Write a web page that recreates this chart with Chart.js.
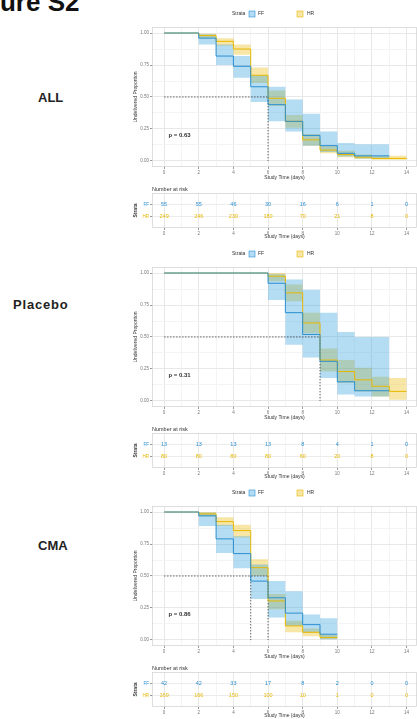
<!DOCTYPE html>
<html>
<head>
<meta charset="utf-8">
<script src="https://cdn.jsdelivr.net/npm/chart.js@4.4.0/dist/chart.umd.min.js"></script>
<style>
body { margin: 0; background: #fff; width: 417px; height: 719px; overflow: hidden; position: relative; font-family: "Liberation Sans", Arial, sans-serif; }
.lbl { position: absolute; font-weight: bold; font-size: 13px; line-height: 14px; color: #222; }
canvas { position: absolute; left: 120px; }
</style>
</head>
<body>
<div id="fig" style="position:absolute;left:-39px;top:-13px;font-size:26px;font-weight:bold;color:#111;white-space:nowrap">Figure S2</div>
<div class="lbl" style="left:38px;top:91px">ALL</div>
<div class="lbl" style="left:13px;top:298px;letter-spacing:0.8px">Placebo</div>
<div class="lbl" style="left:38px;top:539px">CMA</div>

<canvas id="km1" width="297" height="185"></canvas>
<canvas id="risk1" width="297" height="58"></canvas>
<canvas id="km2" width="297" height="185"></canvas>
<canvas id="risk2" width="297" height="58"></canvas>
<canvas id="km3" width="297" height="185"></canvas>
<canvas id="risk3" width="297" height="58"></canvas>

<script>
// tick labels and strata
var riskDays = [0, 2, 4, 6, 8, 10, 12, 14];
var strata = ['FF', 'HR'];

// ALL - Kaplan-Meier steps
var allFFTime = [0, 2, 3, 4, 5, 6, 7, 8, 9, 10, 11, 13];
var allFFSurv = [1, 0.96, 0.82, 0.74, 0.58, 0.44, 0.31, 0.2, 0.12, 0.06, 0.04, 0.04];
var allFFLow  = [1, 0.91, 0.75, 0.65, 0.46, 0.31, 0.23, 0.12, 0.07, 0.035, 0.02, 0.02];
var allFFHigh = [1, 0.99, 0.91, 0.82, 0.67, 0.58, 0.48, 0.37, 0.23, 0.14, 0.13, 0.13];
var allHRTime = [0, 2, 3, 4, 5, 6, 7, 8, 9, 10, 11, 12, 14];
var allHRSurv = [1, 0.98, 0.935, 0.875, 0.67, 0.49, 0.31, 0.165, 0.085, 0.05, 0.03, 0.02, 0.02];
var allHRLow  = [1, 0.96, 0.9, 0.83, 0.61, 0.43, 0.26, 0.12, 0.06, 0.03, 0.015, 0.01, 0.01];
var allHRHigh = [1, 0.995, 0.96, 0.91, 0.73, 0.55, 0.36, 0.21, 0.12, 0.08, 0.05, 0.04, 0.04];
var allRiskFF = [55, 55, 46, 30, 16, 6, 1, 0];
var allRiskHR = [249, 246, 230, 180, 70, 21, 8, 0];

// Placebo
var plaFFTime = [0, 6, 7, 8, 9, 10, 11, 13];
var plaFFSurv = [1, 0.92, 0.69, 0.52, 0.31, 0.15, 0.08, 0.08];
var plaFFLow  = [1, 0.79, 0.44, 0.34, 0.18, 0.05, 0.035, 0.035];
var plaFFHigh = [1, 0.99, 0.95, 0.87, 0.69, 0.54, 0.5, 0.5];
var plaHRTime = [0, 6, 7, 8, 9, 10, 11, 12, 13, 14];
var plaHRSurv = [1, 0.975, 0.845, 0.61, 0.32, 0.23, 0.165, 0.115, 0.075, 0.075];
var plaHRLow  = [1, 0.935, 0.78, 0.53, 0.23, 0.14, 0.075, 0.036, 0.01, 0.01];
var plaHRHigh = [1, 1, 0.91, 0.69, 0.41, 0.32, 0.26, 0.19, 0.18, 0.18];
var plaRiskFF = [13, 13, 13, 13, 8, 4, 1, 0];
var plaRiskHR = [80, 80, 80, 80, 60, 20, 8, 0];

// CMA
var cmaFFTime = [0, 2, 3, 4, 5, 6, 7, 8, 9, 10];
var cmaFFSurv = [1, 0.97, 0.79, 0.675, 0.46, 0.33, 0.21, 0.12, 0.045, 0.045];
var cmaFFLow  = [1, 0.89, 0.68, 0.56, 0.32, 0.175, 0.11, 0.06, 0.005, 0.005];
var cmaFFHigh = [1, 0.995, 0.9, 0.81, 0.59, 0.46, 0.38, 0.2, 0.17, 0.17];
var cmaHRTime = [0, 2, 3, 4, 5, 6, 7, 8, 9, 10];
var cmaHRSurv = [1, 0.985, 0.925, 0.855, 0.565, 0.305, 0.11, 0.06, 0.02, 0.02];
var cmaHRLow  = [1, 0.965, 0.89, 0.8, 0.5, 0.24, 0.06, 0.03, 0.005, 0.005];
var cmaHRHigh = [1, 1, 0.96, 0.9, 0.63, 0.36, 0.15, 0.09, 0.04, 0.04];
var cmaRiskFF = [42, 42, 33, 17, 8, 2, 0, 0];
var cmaRiskHR = [169, 166, 150, 100, 10, 1, 0, 0];

var ffColor = '#2B8FD0', hrColor = '#E7B800';
var ffFill = 'rgba(46,159,223,0.36)', hrFill = 'rgba(231,184,0,0.35)';
var fontFam = '"Liberation Sans", Arial, sans-serif';

Chart.defaults.font.family = fontFam;
Chart.defaults.font.size = 4.5;
Chart.defaults.color = '#666';
Chart.defaults.animation = false;

function pts(t, v) {
    return t.map(function (x, i) { return { x: x, y: v[i] }; });
}

function range(a, b, step) {
    var out = [];
    for (var v = a; v <= b + 1e-9; v += step) out.push({ value: v });
    return out;
}

// legend, p value, axis titles and panel border for the survival plots
var kmText = {
    id: 'kmText',
    afterDraw: function (chart, args, opts) {
        var ctx = chart.ctx, a = chart.chartArea;
        var xs = chart.scales.x, ys = chart.scales.y;
        ctx.save();
        ctx.strokeStyle = '#d0d0d0';
        ctx.lineWidth = 0.7;
        ctx.strokeRect(a.left + 0.5, a.top + 0.5, a.width - 1, a.height - 1);

        ctx.font = '5px ' + fontFam;
        ctx.textBaseline = 'middle';
        ctx.fillStyle = '#333';
        ctx.fillText('Strata', 112, 14);
        ctx.fillStyle = ffFill; ctx.fillRect(129, 11, 6, 6);
        ctx.strokeStyle = ffColor; ctx.lineWidth = 0.6; ctx.strokeRect(129, 11, 6, 6);
        ctx.fillStyle = '#333'; ctx.fillText('FF', 138, 14);
        ctx.fillStyle = hrFill; ctx.fillRect(177, 11, 6, 6);
        ctx.strokeStyle = hrColor; ctx.strokeRect(177, 11, 6, 6);
        ctx.fillStyle = '#333'; ctx.fillText('HR', 187, 14);

        ctx.font = 'bold 6px ' + fontFam;
        ctx.fillStyle = '#333';
        ctx.fillText(opts.p, xs.getPixelForValue(0.25), ys.getPixelForValue(0.2));

        ctx.font = '5px ' + fontFam;
        ctx.textAlign = 'center';
        ctx.fillText('Study Time (days)', (a.left + a.right) / 2, 178);
        ctx.translate(16, (a.top + a.bottom) / 2);
        ctx.rotate(-Math.PI / 2);
        ctx.fillText('Undelivered Proportion', 0, 0);
        ctx.restore();
    }
};

// numbers in the risk table, placed on the scales of the table chart
var riskText = {
    id: 'riskText',
    afterDatasetsDraw: function (chart) {
        var ctx = chart.ctx;
        ctx.save();
        ctx.font = '5.5px ' + fontFam;
        ctx.textAlign = 'center';
        ctx.textBaseline = 'middle';
        chart.data.datasets.forEach(function (ds, i) {
            var meta = chart.getDatasetMeta(i);
            ctx.fillStyle = ds.textColor;
            meta.data.forEach(function (el, j) {
                ctx.fillText(String(ds.counts[j]), el.x, el.y);
            });
        });
        ctx.restore();
    },
    afterDraw: function (chart) {
        var ctx = chart.ctx, a = chart.chartArea;
        ctx.save();
        ctx.strokeStyle = '#d0d0d0';
        ctx.lineWidth = 0.7;
        ctx.strokeRect(a.left + 0.5, a.top + 0.5, a.width - 1, a.height - 1);
        ctx.fillStyle = '#333';
        ctx.font = '5.5px ' + fontFam;
        ctx.textBaseline = 'middle';
        ctx.fillText('Number at risk', a.left, 5);
        ctx.font = '5px ' + fontFam;
        ctx.textAlign = 'center';
        ctx.fillText('Study Time (days)', (a.left + a.right) / 2, 53);
        ctx.translate(16, (a.top + a.bottom) / 2);
        ctx.rotate(-Math.PI / 2);
        ctx.font = 'bold 5px ' + fontFam;
        ctx.fillText('Strata', 0, 0);
        ctx.restore();
    }
};

function xScale(height) {
    return {
        type: 'linear', min: -0.7, max: 14.6,
        afterBuildTicks: function (s) { s.ticks = range(0, 14, 1); },
        afterFit: function (s) { s.height = height; },
        ticks: {
            autoSkip: false, maxRotation: 0, padding: 1, color: '#777',
            callback: function (v) { return v % 2 === 0 ? String(v) : ''; }
        },
        grid: {
            tickLength: 2,
            color: function (c) { return c.tick && c.tick.value % 2 === 0 ? '#e8e8e8' : '#f4f4f4'; },
            tickColor: function (c) { return c.tick && c.tick.value % 2 === 0 ? '#999' : 'rgba(0,0,0,0)'; }
        },
        border: { display: false }
    };
}

function makeKM(id, top, ff, hr, medians, p) {
    var canvas = document.getElementById(id);
    canvas.style.top = top + 'px';
    var maxMed = Math.max.apply(null, medians);
    var datasets = [
        { data: pts(ff.t, ff.s), borderColor: ffColor, borderWidth: 1, stepped: true, pointRadius: 0, fill: false },
        { data: pts(hr.t, hr.s), borderColor: hrColor, borderWidth: 1, stepped: true, pointRadius: 0, fill: false },
        { data: [{ x: 0, y: 0.5 }, { x: maxMed, y: 0.5 }], borderColor: '#222', borderWidth: 0.7, borderDash: [1.4, 1.6], pointRadius: 0, fill: false }
    ];
    medians.forEach(function (m) {
        datasets.push({ data: [{ x: m, y: 0.5 }, { x: m, y: 0 }], borderColor: '#222', borderWidth: 0.7, borderDash: [1.4, 1.6], pointRadius: 0, fill: false });
    });
    datasets.push(
        { data: pts(ff.t, ff.hi), borderWidth: 0, borderColor: 'rgba(0,0,0,0)', backgroundColor: ffFill, stepped: true, pointRadius: 0, fill: '+1' },
        { data: pts(ff.t, ff.lo), borderWidth: 0, borderColor: 'rgba(0,0,0,0)', stepped: true, pointRadius: 0, fill: false },
        { data: pts(hr.t, hr.hi), borderWidth: 0, borderColor: 'rgba(0,0,0,0)', backgroundColor: hrFill, stepped: true, pointRadius: 0, fill: '+1' },
        { data: pts(hr.t, hr.lo), borderWidth: 0, borderColor: 'rgba(0,0,0,0)', stepped: true, pointRadius: 0, fill: false }
    );
    return new Chart(canvas, {
        type: 'line',
        data: { datasets: datasets },
        options: {
            responsive: false,
            parsing: false,
            layout: { padding: { top: 27, left: 0, right: 0, bottom: 0 } },
            plugins: { legend: { display: false }, tooltip: { enabled: false }, kmText: { p: p } },
            scales: {
                x: xScale(18),
                y: {
                    type: 'linear', min: -0.047, max: 1.047,
                    afterBuildTicks: function (s) { s.ticks = range(0, 1, 0.125); },
                    afterFit: function (s) { s.width = 32; },
                    ticks: {
                        autoSkip: false, padding: 1, color: '#777',
                        callback: function (v) { return (v * 4) % 1 === 0 ? v.toFixed(2) : ''; }
                    },
                    grid: {
                        tickLength: 2,
                        color: function (c) { return c.tick && (c.tick.value * 4) % 1 === 0 ? '#e8e8e8' : '#f4f4f4'; },
                        tickColor: function (c) { return c.tick && (c.tick.value * 4) % 1 === 0 ? '#999' : 'rgba(0,0,0,0)'; }
                    },
                    border: { display: false }
                }
            }
        },
        plugins: [kmText]
    });
}

function makeRisk(id, top, riskFF, riskHR) {
    var canvas = document.getElementById(id);
    canvas.style.top = top + 'px';
    return new Chart(canvas, {
        type: 'scatter',
        data: {
            datasets: [
                { data: riskDays.map(function (d) { return { x: d, y: 1 }; }), counts: riskFF, textColor: ffColor, pointRadius: 0 },
                { data: riskDays.map(function (d) { return { x: d, y: 2 }; }), counts: riskHR, textColor: hrColor, pointRadius: 0 }
            ]
        },
        options: {
            responsive: false,
            layout: { padding: { top: 9, left: 0, right: 0, bottom: 0 } },
            plugins: { legend: { display: false }, tooltip: { enabled: false } },
            scales: {
                x: xScale(14),
                y: {
                    type: 'linear', min: 0, max: 3, reverse: true,
                    afterBuildTicks: function (s) { s.ticks = [{ value: 1 }, { value: 2 }]; },
                    afterFit: function (s) { s.width = 32; },
                    ticks: {
                        autoSkip: false, padding: 1,
                        color: function (c) { return c.tick && c.tick.value === 1 ? ffColor : hrColor; },
                        callback: function (v) { return strata[v - 1]; }
                    },
                    grid: { tickLength: 2, color: '#ececec', tickColor: '#999' },
                    border: { display: false }
                }
            }
        },
        plugins: [riskText]
    });
}

makeKM('km1', 0,
    { t: allFFTime, s: allFFSurv, lo: allFFLow, hi: allFFHigh },
    { t: allHRTime, s: allHRSurv, lo: allHRLow, hi: allHRHigh }, [6], 'p = 0.63');
makeRisk('risk1', 184, allRiskFF, allRiskHR);

makeKM('km2', 240,
    { t: plaFFTime, s: plaFFSurv, lo: plaFFLow, hi: plaFFHigh },
    { t: plaHRTime, s: plaHRSurv, lo: plaHRLow, hi: plaHRHigh }, [9], 'p = 0.31');
makeRisk('risk2', 424, plaRiskFF, plaRiskHR);

makeKM('km3', 479,
    { t: cmaFFTime, s: cmaFFSurv, lo: cmaFFLow, hi: cmaFFHigh },
    { t: cmaHRTime, s: cmaHRSurv, lo: cmaHRLow, hi: cmaHRHigh }, [5, 6], 'p = 0.86');
makeRisk('risk3', 663, cmaRiskFF, cmaRiskHR);
</script>
</body>
</html>
